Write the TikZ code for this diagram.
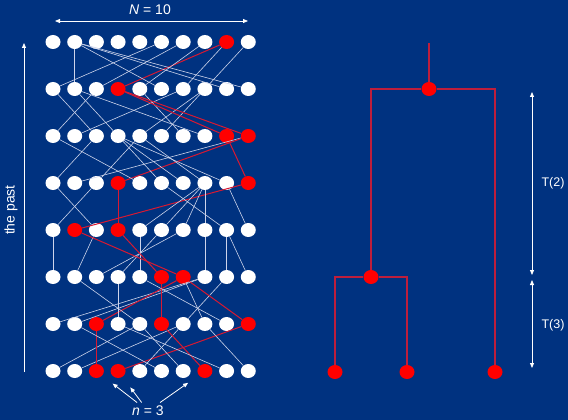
\documentclass[tikz,border=0pt]{standalone}
\usepackage{fontspec}
\setmainfont{Liberation Sans}
\usetikzlibrary{arrows.meta,shapes.geometric}
\definecolor{bluebg}{RGB}{0,50,128}
\definecolor{wirecol}{RGB}{205,212,235}
\definecolor{lineagecol}{RGB}{215,25,50}
\definecolor{branchcol}{RGB}{190,30,60}
\tikzset{
  dotw/.style={ellipse, fill=white, minimum width=15pt, minimum height=14pt, inner sep=0pt},
  dotr/.style={dotw, fill=red},
  edgew/.style={draw=wirecol, line width=0.6pt},
  edger/.style={draw=lineagecol, line width=1pt},
  branch/.style={draw=branchcol, line width=1.1pt},
  pointer/.style={draw=white, line width=0.8pt, -{Triangle[length=5pt,width=4pt]}},
  span/.style={draw=white, line width=0.8pt, {Triangle[length=5pt,width=4pt]}-{Triangle[length=5pt,width=4pt]}},
  lab/.style={text=white, font=\fontsize{14}{16}\selectfont},
  tlab/.style={text=white, font=\fontsize{12.5}{15}\selectfont}
}

\begin{document}
\begin{tikzpicture}[x=1pt, y=-1pt]
  \fill[bluebg] (0,0) rectangle (568,420);
  % individuals, one row per generation (top = oldest)
  \foreach \r/\cols in {1/{w,w,w,w,w,w,w,w,r,w}, 2/{w,w,w,r,w,w,w,w,w,w},
                        3/{w,w,w,w,w,w,w,w,r,r}, 4/{w,w,w,r,w,w,w,w,w,r},
                        5/{w,r,w,r,w,w,w,w,w,w}, 6/{w,w,w,w,w,r,r,w,w,w},
                        7/{w,w,r,w,w,r,w,w,w,r}, 8/{w,w,r,r,w,w,w,r,w,w}}
    \foreach \k [count=\c] in \cols
      \node[dot\k] (p\r-\c) at ({53+(\c-1)*21.7}, {42+(\r-1)*47}) {};
  % parent of each individual in the row above
  \foreach \r/\pa in {2/{6/w,2/w,7/w,9/r,8/w,2/w,9/w,10/w,2/w,2/w},
                      3/{3/w,7/w,1/w,2/w,8/w,8/w,5/w,2/w,4/r,4/r},
                      4/{3/w,10/w,5/w,10/r,1/w,4/w,4/w,5/w,4/w,9/r},
                      5/{3/w,10/r,1/w,4/r,8/w,8/w,8/w,8/w,6/w,9/w},
                      6/{1/w,3/w,7/w,6/w,5/w,4/r,2/r,8/w,9/w,9/w},
                      7/{8/w,8/w,7/r,4/w,2/w,6/r,9/w,7/w,5/w,7/r},
                      8/{5/w,7/w,3/r,10/r,7/w,2/w,5/w,6/r,4/w,8/w}}
    \foreach \p/\k [count=\c] in \pa {
      \pgfmathtruncatemacro\u{\r-1}
      \draw[edge\k] (p\r-\c) -- (p\u-\p);
    }
  % population size
  \coordinate (wl) at (55,21);
  \coordinate (wr) at (248,21);
  \draw[span] (wl) -- (wr);
  \node[lab] (ntot) at (150,10) {{\itshape N} = 10};
  % time axis
  \coordinate (pastlo) at (24,372);
  \coordinate (pasthi) at (24,43);
  \draw[pointer] (pastlo) -- (pasthi);
  \node[lab, rotate=90] (past) at (11,210) {the past};
  % sample
  \node[lab] (nsam) at (148,411) {{\itshape n} = 3};
  \draw[pointer, shorten >=13pt] (nsam) -- (p8-3);
  \draw[pointer, shorten >=13pt] (nsam) -- (p8-4);
  \draw[pointer, shorten >=13pt] (nsam) -- (p8-8);
  % genealogy of the sample
  \node[dotr] (leafa) at (335,372) {};
  \node[dotr] (leafb) at (407,372) {};
  \node[dotr] (leafc) at (495,372) {};
  \node[dotr] (join) at (371,277) {};
  \node[dotr] (root) at (429,89) {};
  \coordinate (stem) at (429,43);
  \draw[branch] (leafa) |- (join) -| (leafb);
  \draw[branch] (join) |- (root) -| (leafc);
  \draw[branch] (root) -- (stem);
  % coalescence times
  \coordinate (ttop) at (532,92);
  \coordinate (tmidhi) at (532,275);
  \coordinate (tmidlo) at (532,280);
  \coordinate (tbot) at (532,368);
  \draw[span] (ttop) -- (tmidhi);
  \draw[span] (tmidlo) -- (tbot);
  \node[tlab] (ttwo) at (553,183) {T(2)};
  \node[tlab] (tthree) at (553,325) {T(3)};
\end{tikzpicture}
\end{document}
